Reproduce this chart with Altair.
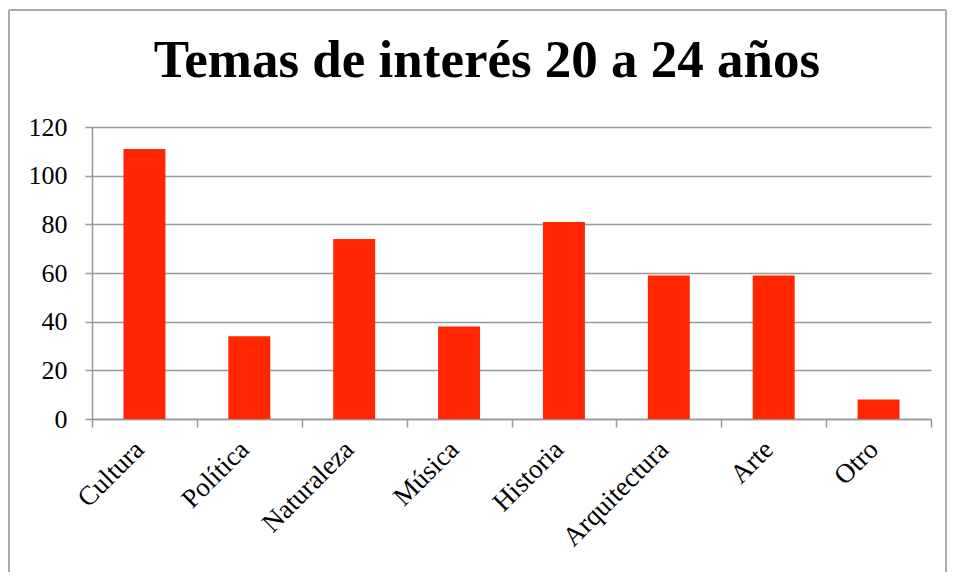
import altair as alt
import pandas as pd

categories = ["Cultura", "Política", "Naturaleza", "Música", "Historia", "Arquitectura", "Arte", "Otro"]
values = [111, 34, 74, 38, 81, 59, 59, 8]
y_ticks = [0, 20, 40, 60, 80, 100, 120]
title_text = "Temas de interés 20 a 24 años"

df = pd.DataFrame({"tema": categories, "valor": values})

FONT = "Liberation Serif"
GREY = "#999999"

bars = alt.Chart(df).mark_bar(color="#FF2600", width=alt.RelativeBandSize(0.4)).encode(
    x=alt.X("tema:N", sort=categories,
            scale=alt.Scale(paddingInner=0, paddingOuter=0),
            axis=alt.Axis(title=None, labelAngle=-45, labelFont=FONT, labelFontSize=27,
                          labelColor="black", labelAlign="right", labelBaseline="middle",
                          labelOffset=-5,
                          tickBand="extent", tickSize=8, tickColor=GREY, tickWidth=1.5,
                          domainColor=GREY, domainWidth=1.5, labelPadding=18,
                          grid=False)),
    y=alt.Y("valor:Q", scale=alt.Scale(domain=[0, 120], nice=False),
            axis=alt.Axis(title=None, values=y_ticks, labelFont=FONT, labelFontSize=26,
                          labelColor="black", tickSize=7, tickColor=GREY, tickWidth=1.5,
                          domainColor=GREY, domainWidth=1.5, gridColor=GREY,
                          gridWidth=1.5, labelPadding=18)),
)

one = pd.DataFrame({"a": [0]})

def edge(**kw):
    return alt.Chart(one).mark_rule(color="#aaaaaa", strokeWidth=2).encode(**kw)

frame = [
    edge(x=alt.value(-83), x2=alt.value(854), y=alt.value(-117)),
    edge(x=alt.value(-83), y=alt.value(-117), y2=alt.value(445)),
    edge(x=alt.value(854), y=alt.value(-117), y2=alt.value(445)),
]

title = alt.Chart(one).mark_text(
    text=title_text, font=FONT, fontSize=53, fontWeight="bold", color="black",
    align="center", baseline="alphabetic"
).encode(x=alt.value(395), y=alt.value(-50))

chart = alt.layer(*frame, bars, title).properties(
    width=839, height=292,
    padding={"left": 84, "top": 119, "right": 16, "bottom": 153},
    autosize=alt.AutoSizeParams(type="none"),
).configure_view(stroke=None)

chart.save("out.html", embed_options={"renderer": "svg", "actions": False})
